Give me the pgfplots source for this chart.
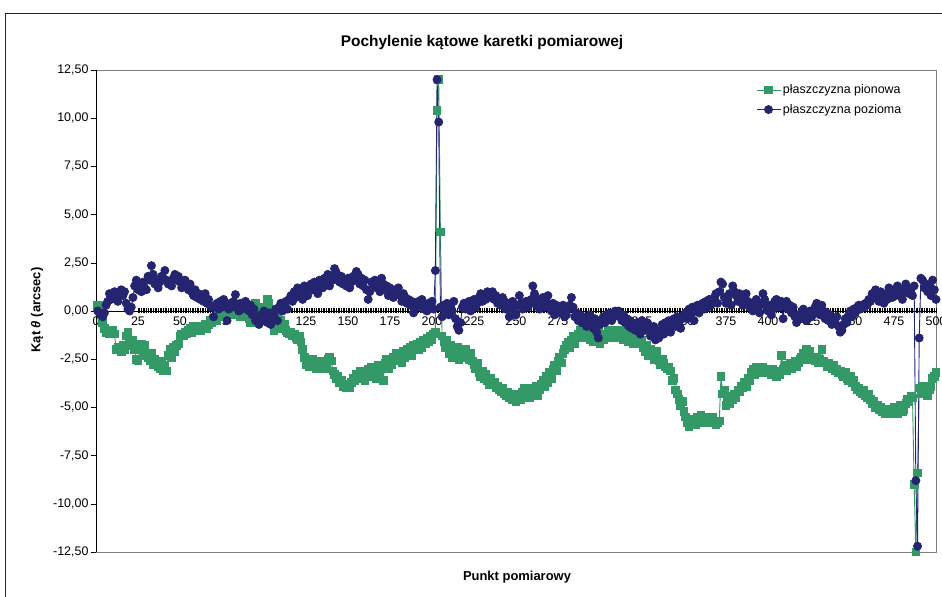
\documentclass[border=0pt]{standalone}
\usepackage{pgfplots}
\pgfplotsset{compat=1.18}
\usepackage{pgfplotstable}
\usepackage{fontspec}
\setmainfont{Liberation Sans}
\definecolor{pgreen}{RGB}{51,153,102}
\definecolor{pnavy}{RGB}{36,36,112}
% plaszczyzna pionowa, points 1..500
\pgfplotstableread[row sep=\\]{
y\\
0.3\\0.2\\0.3\\-0.6\\-0.9\\ -1.1\\-1.0\\-1.2\\-1.1\\-1.0\\
-1.2\\-2.0\\-1.9\\-2.0\\-2.1\\ -1.8\\-2.0\\-1.3\\-1.1\\-1.6\\
-1.8\\-1.5\\-2.0\\-2.5\\-2.6\\ -1.9\\-1.7\\-2.2\\-1.8\\-2.3\\
-2.4\\-2.6\\-2.2\\-2.8\\-2.5\\ -2.7\\-2.9\\-3.0\\-2.6\\-3.1\\
-2.8\\-3.1\\-2.3\\-2.0\\-2.4\\ -1.9\\-2.1\\-1.8\\-1.7\\-1.3\\
-1.2\\-1.3\\-1.1\\-1.2\\-1.0\\ -0.9\\-1.1\\-0.8\\-1.0\\-0.9\\
-0.8\\-1.0\\-0.9\\-0.8\\-0.7\\ -0.9\\-0.7\\-0.5\\-0.6\\-0.4\\
-0.3\\-0.5\\-0.2\\-0.1\\-0.3\\ -0.1\\0.0\\-0.2\\0.1\\-0.1\\
0.0\\-0.2\\0.1\\-0.1\\0.0\\ -0.3\\0.1\\-0.1\\-0.2\\0.0\\
-0.4\\-0.6\\-0.5\\-0.3\\0.4\\ 0.1\\-0.2\\0.2\\0.0\\-0.3\\
0.2\\0.6\\0.4\\0.1\\-0.2\\ -1.0\\-0.6\\-0.3\\-0.8\\-0.5\\
-0.9\\-0.7\\-1.0\\-1.1\\-1.2\\ -1.1\\-1.3\\-1.2\\-1.4\\-1.5\\
-1.3\\-1.6\\-2.0\\-2.4\\-2.8\\ -2.6\\-2.9\\-2.7\\-2.5\\-2.8\\
-3.0\\-2.7\\-2.9\\-2.6\\-2.8\\ -3.0\\-2.7\\-2.5\\-2.4\\-2.6\\
-3.1\\-3.3\\-3.5\\-3.4\\-3.7\\ -3.6\\-3.9\\-3.8\\-4.0\\-3.9\\
-4.0\\-3.7\\-3.5\\-3.6\\-3.3\\ -3.4\\-3.1\\-3.5\\-3.2\\-3.6\\
-3.3\\-3.0\\-3.2\\-2.9\\-3.4\\ -3.1\\-3.5\\-2.8\\-3.3\\-2.9\\
-3.6\\-2.7\\-2.5\\-3.0\\-2.6\\ -2.8\\-2.4\\-2.6\\-2.2\\-2.5\\
-2.3\\-2.7\\-2.1\\-2.4\\-2.0\\ -2.2\\-1.9\\-2.3\\-1.8\\-2.0\\
-1.7\\-2.0\\-1.6\\-1.9\\-1.5\\ -1.7\\-1.4\\-1.6\\-1.3\\-1.5\\
-1.2\\-1.1\\10.4\\12.0\\4.1\\ -1.3\\-1.6\\-1.9\\-1.5\\-2.2\\
-1.8\\-2.4\\-2.0\\-2.3\\-1.9\\ -2.5\\-2.1\\-2.4\\-2.2\\-2.0\\
-2.3\\-2.5\\-2.2\\-2.6\\-2.8\\ -3.0\\-2.7\\-3.2\\-3.4\\-3.1\\
-3.5\\-3.3\\-3.6\\-3.8\\-3.5\\ -3.8\\-3.7\\-4.0\\-3.9\\-4.1\\
-4.2\\-4.0\\-4.3\\-4.4\\-4.2\\ -4.5\\-4.3\\-4.6\\-4.4\\-4.7\\
-4.5\\-4.3\\-4.6\\-4.2\\-4.0\\ -4.4\\-4.1\\-4.5\\-4.3\\-4.0\\
-4.2\\-3.9\\-4.4\\-4.1\\-3.8\\ -3.6\\-3.9\\-3.4\\-3.7\\-3.2\\
-3.5\\-3.0\\-2.8\\-3.1\\-2.6\\ -2.4\\-2.7\\-2.2\\-2.0\\-1.8\\
-1.6\\-1.9\\-1.5\\-1.3\\-1.7\\ -1.4\\-1.2\\-1.0\\-1.3\\-1.1\\
-1.4\\-1.0\\-1.2\\-1.5\\-1.3\\ -1.6\\-1.2\\-1.4\\-1.1\\-1.7\\
-1.3\\-1.5\\-1.2\\-1.4\\-1.0\\ -1.2\\-1.3\\-1.0\\-1.4\\-1.1\\
-1.2\\-1.0\\-1.3\\-1.5\\-1.2\\ -1.4\\-1.6\\-1.3\\-1.5\\-1.7\\
-1.4\\-1.6\\-1.3\\-1.7\\-1.5\\ -1.9\\-2.1\\-1.8\\-2.3\\-2.0\\
-2.2\\-2.5\\-2.3\\-2.1\\-2.6\\ -2.8\\-2.5\\-2.7\\-2.9\\-3.0\\
-2.9\\-3.1\\-3.6\\-3.5\\-4.1\\ -4.3\\-4.6\\-4.9\\-4.7\\-5.2\\
-5.5\\-5.8\\-6.0\\-5.7\\-5.9\\ -5.6\\-5.9\\-5.5\\-5.7\\-5.4\\
-5.6\\-5.8\\-5.5\\-5.7\\-5.6\\ -5.8\\-5.5\\-5.7\\-5.9\\-5.8\\
-5.7\\-3.4\\-4.3\\-4.1\\-4.9\\ -4.6\\-4.8\\-4.4\\-4.6\\-4.3\\
-4.5\\-4.1\\-4.2\\-3.9\\-4.0\\ -3.7\\-3.9\\-3.5\\-3.6\\-3.2\\
-3.0\\-3.3\\-2.9\\-3.1\\-3.0\\ -3.2\\-2.9\\-3.1\\-3.0\\-3.2\\
-3.1\\-3.3\\-3.0\\-3.2\\-3.4\\ -3.1\\-3.3\\-2.3\\-3.0\\-2.8\\
-3.1\\-2.9\\-2.7\\-3.0\\-2.8\\ -2.6\\-2.9\\-2.7\\-2.5\\-2.4\\
-2.2\\-2.5\\-2.0\\-2.3\\-2.1\\ -2.4\\-2.5\\-2.6\\-2.4\\-2.7\\
-2.5\\-2.0\\-2.6\\-2.7\\-2.9\\ -2.7\\-2.9\\-3.0\\-2.8\\-3.1\\
-3.0\\-3.2\\-3.1\\-3.3\\-3.4\\ -3.2\\-3.5\\-3.6\\-3.4\\-3.7\\
-3.6\\-3.9\\-4.1\\-4.0\\-4.2\\ -4.3\\-4.1\\-4.4\\-4.5\\-4.3\\
-4.6\\-4.8\\-4.7\\-5.0\\-4.9\\ -5.1\\-5.0\\-5.2\\-5.1\\-5.3\\
-5.2\\-5.3\\-5.1\\-5.2\\-5.0\\ -5.1\\-5.3\\-5.0\\-4.9\\-5.2\\
-5.1\\-4.8\\-4.6\\-4.7\\-4.4\\ -4.5\\-9.0\\-12.5\\-8.4\\-4.0\\
-4.3\\-3.9\\-4.2\\-4.0\\-4.4\\ -4.1\\-3.9\\-3.5\\-3.4\\-3.2\\
}\pion
% plaszczyzna pozioma, points 1..500
\pgfplotstableread[row sep=\\]{
y\\
0.0\\-0.1\\-0.2\\-0.3\\-0.1\\ 0.3\\0.5\\0.9\\0.6\\0.8\\
1.0\\0.7\\0.5\\0.9\\1.1\\ 0.8\\1.0\\0.4\\0.1\\0.0\\
0.2\\0.7\\1.3\\1.6\\1.1\\ 1.3\\1.0\\1.5\\1.2\\1.1\\
1.8\\1.6\\2.35\\1.9\\1.4\\ 1.6\\1.2\\1.5\\1.8\\1.7\\
2.1\\1.6\\1.4\\1.5\\1.3\\ 1.7\\1.9\\1.6\\1.8\\1.5\\
1.2\\1.4\\1.6\\1.3\\1.1\\ 1.4\\1.0\\0.8\\1.1\\0.7\\
0.9\\0.6\\0.8\\0.5\\0.9\\ 0.4\\0.6\\0.3\\0.2\\-0.3\\
0.3\\0.4\\0.1\\0.5\\0.2\\ 0.6\\0.3\\-0.5\\0.1\\0.4\\
0.2\\0.5\\0.85\\0.3\\0.0\\ 0.4\\0.1\\0.3\\0.5\\0.2\\
0.0\\0.3\\-0.2\\0.1\\-0.5\\ -0.3\\-0.7\\-0.2\\-0.5\\0.0\\
-0.3\\-0.6\\-0.1\\-0.7\\-0.4\\ -0.2\\0.1\\-0.5\\0.2\\0.4\\
0.0\\0.3\\0.5\\0.1\\0.6\\ 0.8\\0.5\\1.0\\0.7\\1.2\\
0.9\\1.1\\0.6\\1.3\\1.0\\ 0.8\\1.2\\1.4\\1.1\\1.5\\
1.3\\0.9\\1.6\\1.4\\1.2\\ 1.7\\1.5\\1.9\\1.3\\1.8\\
1.6\\2.2\\2.0\\1.7\\1.5\\ 1.8\\1.4\\1.6\\1.3\\1.7\\
1.2\\1.5\\1.8\\1.6\\2.05\\ 1.9\\1.4\\1.7\\1.3\\1.6\\
1.1\\0.6\\1.0\\1.5\\1.3\\ 1.6\\1.2\\1.5\\1.0\\1.7\\
1.4\\1.1\\1.3\\0.8\\1.2\\ 1.0\\0.7\\1.1\\0.9\\1.2\\
0.8\\0.5\\0.9\\0.7\\0.4\\ 0.6\\0.3\\0.5\\-0.1\\0.4\\
0.2\\0.5\\0.3\\0.6\\0.1\\ 0.3\\0.0\\0.4\\0.2\\0.5\\
0.1\\2.1\\12.0\\9.8\\0.2\\ -0.3\\0.3\\0.1\\0.4\\-0.2\\
0.2\\0.0\\0.5\\-0.4\\-0.8\\ -1.0\\-0.6\\0.2\\0.4\\0.1\\
0.3\\0.5\\0.0\\0.3\\0.6\\ 0.2\\0.4\\0.7\\0.9\\0.5\\
0.8\\0.6\\1.0\\0.9\\0.7\\ 1.0\\0.6\\0.8\\0.4\\0.6\\
0.3\\0.7\\0.5\\0.1\\0.4\\ -0.3\\0.2\\0.5\\0.0\\-0.2\\
0.3\\0.8\\0.4\\0.1\\0.3\\ 0.5\\0.2\\0.4\\0.6\\1.3\\
0.9\\0.3\\0.6\\0.1\\0.4\\ 0.7\\0.2\\0.5\\0.8\\0.3\\
0.0\\0.4\\-0.2\\0.3\\0.1\\ 0.2\\-0.1\\0.3\\-0.3\\-0.2\\
0.1\\0.3\\0.7\\0.2\\-0.3\\ -0.1\\-0.5\\-0.2\\-0.6\\-0.3\\
-0.4\\-0.8\\-0.5\\-0.2\\-0.6\\ -0.9\\-0.4\\-1.1\\-1.4\\-0.7\\
-0.5\\-0.3\\-0.6\\-0.2\\-0.4\\ -0.1\\-0.5\\-0.3\\0.0\\-0.1\\
0.0\\-0.3\\-0.5\\-0.2\\-0.6\\ -0.4\\-0.8\\-0.5\\-0.9\\-0.7\\
-1.0\\-0.6\\-0.8\\-1.2\\-0.5\\ -0.7\\-1.0\\-0.6\\-0.9\\-1.3\\
-1.1\\-0.8\\-1.5\\-1.2\\-1.4\\ -1.0\\-0.7\\-1.2\\-0.6\\-0.9\\
-0.5\\-1.1\\-0.7\\-0.4\\-0.8\\ -0.3\\-0.6\\-0.9\\-0.4\\-0.2\\
-0.1\\-0.4\\0.1\\-0.2\\0.2\\ -0.5\\0.0\\0.3\\-0.1\\0.2\\
0.4\\0.1\\0.5\\0.2\\0.6\\ 0.3\\0.5\\0.7\\0.9\\0.4\\
1.0\\1.5\\1.4\\0.7\\0.4\\ 0.6\\0.9\\0.3\\1.3\\1.0\\
0.8\\0.5\\0.9\\0.6\\0.3\\ 0.7\\0.9\\0.5\\0.2\\0.4\\
0.0\\0.3\\0.6\\0.2\\-0.1\\ 0.4\\0.9\\0.6\\0.2\\0.0\\
0.3\\-0.2\\0.1\\0.5\\0.6\\ 0.4\\0.2\\0.5\\-0.4\\0.3\\
0.5\\0.1\\0.3\\-0.1\\0.2\\ -0.3\\-0.6\\-0.2\\-0.4\\-0.1\\
0.1\\-0.3\\-0.5\\-0.2\\0.0\\ -0.3\\-0.1\\0.2\\0.4\\0.1\\
-0.2\\0.3\\0.0\\-0.4\\-0.1\\ -0.5\\-0.2\\-0.7\\-0.4\\-0.6\\
-0.3\\-0.8\\-1.1\\-1.0\\-0.7\\ -0.4\\-0.6\\-0.2\\0.0\\-0.3\\
0.1\\-0.1\\0.2\\0.3\\0.1\\ 0.3\\0.2\\0.4\\0.3\\0.6\\
0.5\\0.9\\0.7\\1.1\\0.8\\ 0.5\\1.0\\0.7\\0.4\\0.9\\
0.6\\1.2\\0.9\\0.7\\1.1\\ 0.8\\1.3\\0.9\\1.1\\0.6\\
1.0\\1.4\\1.2\\0.9\\1.1\\ 0.8\\1.3\\-8.8\\-12.2\\-1.4\\
1.7\\1.6\\1.2\\1.4\\1.0\\ 1.3\\0.8\\1.6\\1.1\\0.6\\
}\poz
\begin{document}
\begin{tikzpicture}
\useasboundingbox (0,0) rectangle (942bp,597bp);
\draw[black!85, line width=0.8bp] (5bp,-10bp) -- (5bp,584bp) -- (952bp,584bp);
\draw[gray, line width=0.9bp] (96bp,45bp) rectangle (936bp,527bp);
\begin{axis}[
  at={(96bp,45bp)}, anchor=south west,
  scale only axis, width=840bp, height=482bp,
  xmin=0, xmax=500, ymin=-12.5, ymax=12.5,
  axis x line=middle, axis y line=left,
  axis line style={-, black, line width=0.8bp},
  xtick={25,50,...,500}, minor x tick num=24,
  extra x ticks={0}, extra x tick labels={0},
  ytick={-12.5,-10,...,12.5},
  tick align=center, major tick length=5bp, minor tick length=5bp,
  tick style={black, line width=0.5bp},
  y tick style={xshift=-2.5bp},
  /pgf/number format/assume math mode=true,
  ticklabel style={font=\fontsize{12.5}{14}\selectfont},
  yticklabel style={xshift=-1.5bp, /pgf/number format/.cd, fixed, fixed zerofill, precision=2, use comma, assume math mode=true},
  xticklabel style={/pgf/number format/.cd, fixed, precision=0, assume math mode=true},
  legend style={at={(axis description cs:0.782,0.978)}, anchor=north west, draw=none, fill=none,
    font=\fontsize{12.5}{15}\selectfont, row sep=5bp},
  legend cell align=left,
  legend image code/.code={\draw[mark repeat=2, mark phase=2, #1] plot coordinates {(0bp,0bp) (12bp,0bp) (24bp,0bp)};},
]
\addplot[pgreen, line width=0.9bp, mark=square*, mark size=3.8bp, mark options={solid, fill=pgreen, draw=pgreen}]
  table[x expr=\coordindex+1, y=y] {\pion};
\addlegendentry{płaszczyzna pionowa}
\addplot[pnavy, line width=0.9bp, mark=*, mark size=4bp, mark options={solid, fill=pnavy, draw=pnavy}]
  table[x expr=\coordindex+1, y=y] {\poz};
\addlegendentry{płaszczyzna pozioma}
\end{axis}
\node[font=\bfseries\fontsize{15.5}{18}\selectfont] at (482bp,554bp) {Pochylenie kątowe karetki pomiarowej};
\node[rotate=90, font=\bfseries\fontsize{13}{15}\selectfont] at (37bp,287bp) {Kąt \textit{θ} (arcsec)};
\node[font=\bfseries\fontsize{13}{15}\selectfont] at (517bp,20bp) {Punkt pomiarowy};
\end{tikzpicture}
\end{document}
